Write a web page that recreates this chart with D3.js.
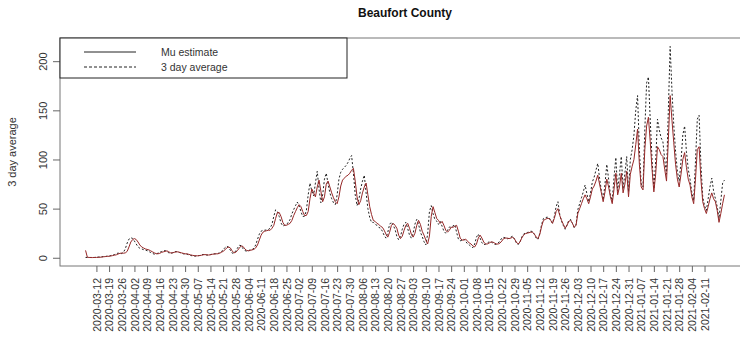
<!DOCTYPE html>
<html>
<head>
<meta charset="utf-8">
<script src="https://cdn.jsdelivr.net/npm/d3@7"></script>
<style>
  html, body { margin: 0; padding: 0; background: #fff; }
  svg { display: block; font-family: "Liberation Sans", Arial, sans-serif; }
</style>
</head>
<body>
<svg id="chart" width="740" height="337"></svg>
<script>
// Beaufort County: daily model estimate vs. 3 day average of cases
const chartTitle = "Beaufort County";
const yLabel = "3 day average";
const seriesNames = ["Mu estimate", "3 day average"];
const firstDay = "2020-03-06";

// Daily Mu estimate, from 2020-03-06 to 2021-02-22
const muEstimate = [
  7.5, 0.5, 0.3, 0.2, 0.2, 0.3,
  0.3, 0.4, 0.5, 0.7, 1.0, 1.2, 1.4,
  1.5, 1.8, 2.2, 2.6, 3.0, 3.8, 4.5,
  4.8, 4.6, 5.0, 6.5, 11, 16, 18.5,
  19.5, 18.5, 16, 13, 11, 10, 9,
  8.5, 8, 7, 6, 5, 4.2, 4,
  4.5, 5.5, 6, 6.5, 7, 6, 5,
  5, 5.5, 6, 6, 5.5, 5, 4.5,
  4, 4, 3.5, 3, 2.5, 2.2, 2,
  2, 2.2, 2.5, 3, 3.2, 3, 2.8,
  3, 3.5, 3.8, 4, 4, 4.5, 5.5,
  6.5, 8, 10, 11, 10, 7, 5,
  5.5, 7.5, 10, 12, 11.5, 9, 7.5,
  7, 7.5, 8, 8.5, 10, 13, 18,
  23, 26, 27, 27.5, 28, 28, 30,
  33, 40, 46, 46, 42, 36, 33,
  33, 34, 35, 38, 43, 47, 51,
  54, 52, 47, 43, 43, 47, 60,
  70, 66, 62, 72, 79, 68, 57,
  62, 75, 78, 72, 66, 61, 57,
  55, 62, 73, 79, 81, 83, 84,
  86, 89, 91, 78, 62, 54, 58,
  66, 72, 76, 64, 52, 44, 38,
  37, 35, 34, 32, 31, 28, 24,
  21, 26, 33, 35, 33, 30, 23,
  19.5, 22, 28, 33, 35, 30, 24,
  21, 25, 33, 38, 34, 27, 23,
  18, 14, 22, 42, 52, 46, 40,
  38, 35, 37, 33, 28, 26, 28,
  31, 31, 32, 33, 27, 20, 18,
  18, 19, 17, 15, 14, 12, 11,
  14, 20, 23, 20, 16, 14, 14,
  15, 16, 16, 15, 14, 14, 15,
  17, 19.5, 20, 20, 19.5, 20, 21,
  19, 16, 14, 16, 20, 23, 24.5,
  25, 25.5, 26, 26, 24, 21, 19.5,
  24, 32, 38, 39, 40, 40, 38,
  35, 40, 47, 50, 43, 38, 34,
  30, 33, 37, 38, 35, 31, 33,
  45, 50, 55, 60, 64, 60, 55,
  62, 70, 73, 78, 84, 75, 66,
  57, 67, 80, 72, 62, 55, 70,
  86, 64, 72, 86, 66, 75, 88,
  62, 85, 93, 100, 115, 131, 95,
  72, 69, 110, 134, 143, 118, 90,
  67, 85, 113, 110, 105, 103, 90,
  78, 120, 165, 140, 117, 95, 80,
  72, 85, 100, 107, 92, 80, 74,
  62, 55, 80, 110, 113, 80, 57,
  50, 45, 52, 60, 66, 60, 57,
  48, 36, 45, 55, 64
];

// Daily 3 day average of reported cases, same days
const threeDayAvg = [
  0.3, 0.3, 0.3, 0.3, 0.3, 0.3,
  0.7, 0.7, 1.0, 1.0, 1.3, 1.3, 1.7,
  1.7, 2.3, 2.7, 3.3, 4.3, 4.7, 4.3,
  4.3, 5.7, 9.3, 15, 19, 20.3, 19.7,
  17, 14, 11, 9.7, 9, 8.3, 7.7,
  7.3, 6.3, 5.3, 4.3, 3.7, 3.7, 4.7,
  5.7, 6.3, 7, 7.3, 6.3, 5, 4.3,
  5, 6, 6.3, 6, 5.3, 4.7, 4,
  3.7, 3.7, 3, 2.3, 2, 1.7, 1.7,
  2, 2.3, 3, 3.3, 3.3, 2.7, 2.7,
  3.3, 3.7, 4, 4, 4.3, 5, 6.3,
  8, 10.3, 11.7, 10.7, 7.7, 4.7, 4.7,
  7, 10, 12.7, 12.3, 9.3, 7.3, 6.7,
  7.3, 8, 8.3, 9.7, 13, 18.7, 24,
  27, 28, 28, 28.3, 28.7, 30.3, 34,
  42, 48.7, 47, 42, 35.3, 32.3, 33,
  34.3, 35.7, 39, 44.7, 49, 53, 56.7,
  53, 47, 42, 42.3, 48, 64, 76,
  68, 63, 76, 88, 70, 56, 64,
  80, 86, 75, 66, 60, 56, 54,
  64, 80, 87, 90, 92, 94, 97,
  101, 104, 86, 64, 53, 59, 70,
  78, 84, 66, 50, 41, 36, 36,
  34, 33, 31, 30, 27, 22.7, 20,
  26, 34, 36.3, 33, 29, 21.7, 18.3,
  21.7, 29, 34.3, 36, 29.7, 23, 20,
  25, 34.3, 39, 34, 26, 21.7, 16.3,
  13, 24, 47, 53, 45, 39, 37.3,
  34, 37, 32, 27, 25, 28, 31.3,
  31, 32.3, 33.7, 26, 19, 17.3, 17.7,
  19, 16.7, 14.3, 13, 11.3, 10.3, 14,
  21, 24, 20, 15.3, 13.3, 13.7, 15,
  16.3, 16.3, 15, 13.7, 13.7, 15, 17.3,
  20, 20.7, 20.3, 19.3, 19.7, 21, 22,
  19, 15.3, 13.3, 16, 21, 24, 25.3,
  25.7, 26, 27, 26.7, 23.7, 20, 18.7,
  25, 34, 40, 40.7, 41.3, 41, 38.3,
  35, 42, 52, 57, 44, 37, 32.7,
  29, 33.3, 38, 39, 35, 30.7, 34,
  49, 55, 61, 67, 74, 65, 57,
  66, 77, 82, 89, 96, 81, 68,
  59, 75, 95, 80, 64, 58, 82,
  102, 68, 85, 103, 70, 86, 103,
  67, 100, 110, 125, 150, 165, 110,
  75, 72, 130, 178, 184, 140, 100,
  70, 98, 141, 130, 122, 118, 100,
  85, 150, 215, 170, 135, 108, 88,
  78, 98, 125, 134, 108, 90, 80,
  66, 58, 98, 141, 145, 95, 62,
  53, 48, 60, 72, 81, 68, 60,
  52, 40, 58, 76, 79
];

// Weekly tick labels along the date axis
const tickLabels = [
  "2020-03-12", "2020-03-19", "2020-03-26", "2020-04-02", "2020-04-09",
  "2020-04-16", "2020-04-23", "2020-04-30", "2020-05-07", "2020-05-14",
  "2020-05-21", "2020-05-28", "2020-06-04", "2020-06-11", "2020-06-18",
  "2020-06-25", "2020-07-02", "2020-07-09", "2020-07-16", "2020-07-23",
  "2020-07-30", "2020-08-06", "2020-08-13", "2020-08-20", "2020-08-27",
  "2020-09-03", "2020-09-10", "2020-09-17", "2020-09-24", "2020-10-01",
  "2020-10-08", "2020-10-15", "2020-10-22", "2020-10-29", "2020-11-05",
  "2020-11-12", "2020-11-19", "2020-11-26", "2020-12-03", "2020-12-10",
  "2020-12-17", "2020-12-24", "2020-12-31", "2021-01-07", "2021-01-14",
  "2021-01-21", "2021-01-28", "2021-02-04", "2021-02-11"
];
const yTicks = [0, 50, 100, 150, 200];

const parse = d3.utcParse("%Y-%m-%d");
const start = parse(firstDay);
const days = muEstimate.map((_, i) => d3.utcDay.offset(start, i));
const mu = days.map((d, i) => ({ date: d, v: muEstimate[i] }));
const avg = days.map((d, i) => ({ date: d, v: threeDayAvg[i] }));

// plot region (R-style 4% padding on both axes)
const plotLeft = 60, plotRight = 750, plotTop = 38, plotBottom = 266;
const svg = d3.select("#chart");

const t0 = +days[0], t1 = +days[days.length - 1];
const padT = (t1 - t0) * 0.04;
const x = d3.scaleUtc()
  .domain([new Date(t0 - padT), new Date(t1 + padT)])
  .range([plotLeft, plotRight]);

const allVals = muEstimate.concat(threeDayAvg);
const yMin = d3.min(allVals), yMax = d3.max(allVals);
const padY = (yMax - yMin) * 0.04;
const y = d3.scaleLinear()
  .domain([yMin - padY, yMax + padY])
  .range([plotBottom, plotTop]);

const textColor = "#333";

// title
svg.append("text")
  .attr("x", (plotLeft + plotRight) / 2).attr("y", 17)
  .attr("text-anchor", "middle")
  .attr("font-size", 12).attr("font-weight", "bold")
  .attr("fill", "#111")
  .text(chartTitle);

// y axis label
svg.append("text")
  .attr("transform", `translate(16,${(plotTop + plotBottom) / 2}) rotate(-90)`)
  .attr("text-anchor", "middle")
  .attr("font-size", 11)
  .attr("fill", textColor)
  .text(yLabel);

// data lines
const line = d3.line().x(d => x(d.date)).y(d => y(d.v));

svg.append("path")
  .datum(avg)
  .attr("d", line)
  .attr("fill", "none")
  .attr("stroke", "#222")
  .attr("stroke-width", 1)
  .attr("stroke-dasharray", "2,2");

svg.append("path")
  .datum(mu)
  .attr("d", line)
  .attr("fill", "none")
  .attr("stroke", "#962828")
  .attr("stroke-width", 1);

// plot frame
svg.append("rect")
  .attr("x", plotLeft).attr("y", plotTop)
  .attr("width", plotRight - plotLeft).attr("height", plotBottom - plotTop)
  .attr("fill", "none")
  .attr("stroke", "#777")
  .attr("stroke-width", 1);

// y axis, labels parallel to the axis
const yAxis = d3.axisLeft(y).tickValues(yTicks).tickSize(7).tickFormat(d3.format("d"));
const gy = svg.append("g").attr("transform", `translate(${plotLeft},0)`).call(yAxis);
gy.select(".domain").remove();
gy.selectAll(".tick line").attr("stroke", "#666");
gy.selectAll(".tick text")
  .attr("font-size", 11)
  .attr("fill", textColor)
  .attr("font-family", "Liberation Sans, Arial, sans-serif")
  .attr("text-anchor", "middle")
  .attr("x", 0).attr("y", 0).attr("dy", 0)
  .attr("transform", "translate(-13,0) rotate(-90)");

// x axis with weekly ticks
const tickDates = tickLabels.map(parse);
const xAxis = d3.axisBottom(x).tickValues(tickDates).tickSize(6)
  .tickFormat((d, i) => tickLabels[i]);
const gx = svg.append("g").attr("transform", `translate(0,${plotBottom})`).call(xAxis);
gx.select(".domain").remove();
gx.selectAll(".tick line").attr("stroke", "#666");
gx.selectAll(".tick text")
  .attr("font-size", 10.5)
  .attr("fill", textColor)
  .attr("font-family", "Liberation Sans, Arial, sans-serif")
  .attr("text-anchor", "end")
  .attr("transform", "rotate(-90)")
  .attr("x", -12)
  .attr("y", 0)
  .attr("dy", "0.35em");

// legend
const lg = svg.append("g");
lg.append("rect")
  .attr("x", plotLeft).attr("y", plotTop)
  .attr("width", 287).attr("height", 40)
  .attr("fill", "#fff")
  .attr("stroke", "#222")
  .attr("stroke-width", 1);
const legendRows = [
  { name: seriesNames[0], color: "#222", dash: null, y: 52 },
  { name: seriesNames[1], color: "#222", dash: "3,2", y: 67 }
];
legendRows.forEach(r => {
  lg.append("line")
    .attr("x1", 84).attr("x2", 136)
    .attr("y1", r.y).attr("y2", r.y)
    .attr("stroke", r.color).attr("stroke-width", 1)
    .attr("stroke-dasharray", r.dash);
  lg.append("text")
    .attr("x", 161).attr("y", r.y)
    .attr("dy", "0.35em")
    .attr("font-size", 10.5)
    .attr("fill", textColor)
    .text(r.name);
});
</script>
</body>
</html>
